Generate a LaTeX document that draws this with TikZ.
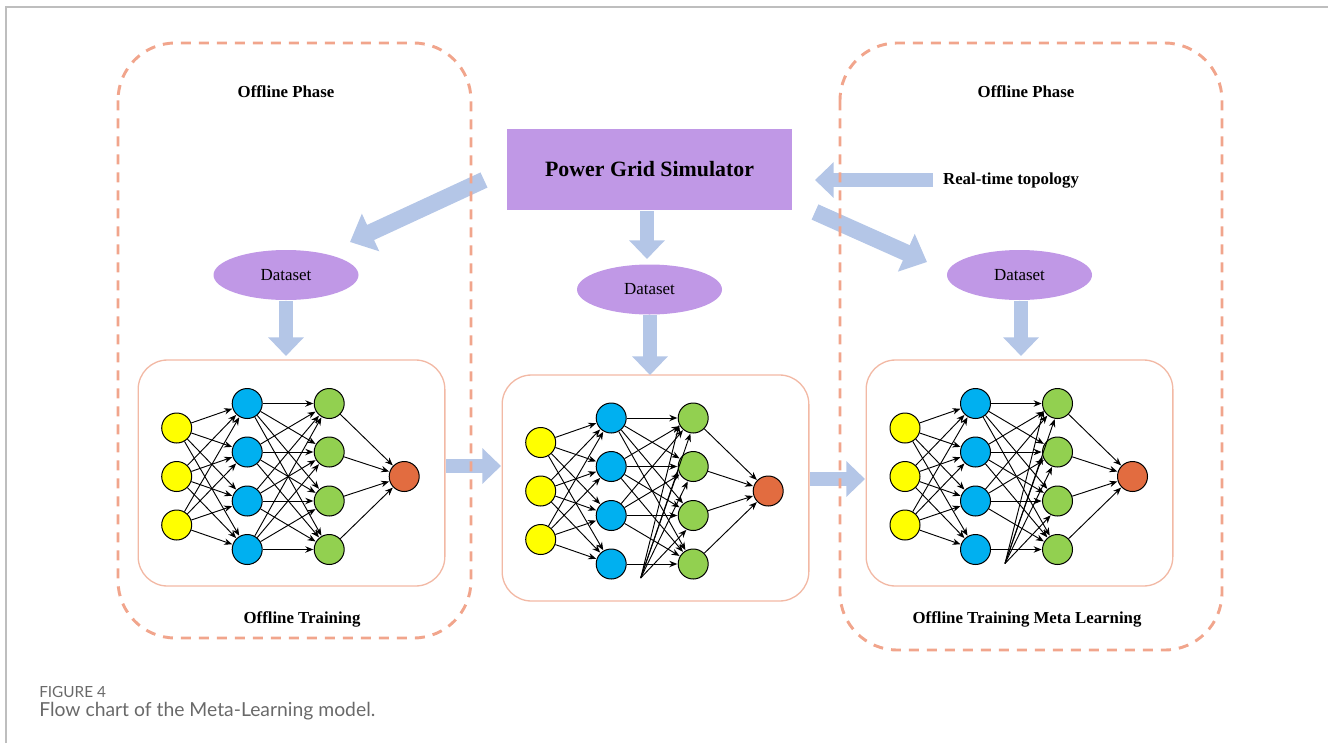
\documentclass[tikz,border=0pt]{standalone}
\usepackage{fontspec}
\setmainfont{Liberation Serif}
\newfontfamily\capfont{Lato}
\usetikzlibrary{arrows.meta,shapes.geometric,calc}
\definecolor{dashc}{RGB}{241,165,140}
\definecolor{nnc}{RGB}{242,185,165}
\definecolor{arrc}{RGB}{180,198,231}
\definecolor{simc}{RGB}{192,152,230}
\definecolor{yel}{RGB}{255,255,0}
\definecolor{blu}{RGB}{0,176,240}
\definecolor{grn}{RGB}{146,208,80}
\definecolor{redc}{RGB}{226,108,64}
\definecolor{framec}{RGB}{190,190,190}
\definecolor{capc}{RGB}{105,105,105}
\newcommand\drawnet[4]{%
  \begin{scope}[shift={(#2,#3)}]
    \foreach \i/\yy in {1/-48.5,2/0,3/48.5} \node[neuron,fill=yel] (#1y\i) at (0,\yy) {};
    \foreach \i/\yy in {1/-73,2/-24.5,3/24.5,4/73} {
      \node[neuron,fill=blu] (#1b\i) at (70.5,\yy) {};
      \node[neuron,fill=grn] (#1g\i) at (152.5,\yy) {};
    }
    \node[neuron,fill=redc] (#1r) at (227.5,0) {};
    \coordinate (#1p) at (100,87);
  \end{scope}
  \foreach \i in {1,2,3} \foreach \j in {1,...,4} \draw[edge] (#1y\i) -- (#1b\j);
  \foreach \i in {1,2,3} \foreach \j in {1,...,4} \draw[edge] (#1b\i) -- (#1g\j);
  \draw[edge] (#1b4) -- (#1g4);
  \ifnum#4=0
    \foreach \j in {1,2,3} \draw[edge] (#1b4) -- (#1g\j);
  \else
    \draw[edge] (#1p) -- (#1g1.-100);
    \draw[edge] (#1p) -- (#1g2.-110);
    \draw[edge] (#1p) -- (#1g3.-115);
    \draw[edge] (#1p) -- (#1g1.205);
    \draw[edge] (#1p) -- (#1g2.195);
  \fi
  \foreach \j in {1,...,4} \draw[edge] (#1g\j) -- (#1r);
}
\begin{document}
\begin{tikzpicture}[x=0.75pt,y=-0.75pt,
  phase/.style={draw=dashc,line width=2.2pt,dash pattern=on 7.5pt off 6pt,rounded corners=43pt},
  nnbox/.style={draw=nnc,line width=1pt,rounded corners=22pt,minimum width=230pt,minimum height=169.5pt,inner sep=0pt},
  barrow/.style={draw=arrc,line width=11pt,-{Triangle[length=14pt,width=26pt]}},
  barrowbig/.style={draw=arrc,line width=12.5pt,-{Triangle[length=17pt,width=30pt]}},
  neuron/.style={circle,draw=black,line width=0.75pt,minimum size=22.5pt,inner sep=0pt},
  edge/.style={-{Stealth[length=6pt,width=4.8pt]},line width=0.7pt,shorten >=0.3pt},
  dataset/.style={ellipse,fill=simc,minimum width=108.75pt,minimum height=37.5pt,inner sep=0pt,font=\fontsize{12.7pt}{14pt}\selectfont},
  title/.style={font=\bfseries\fontsize{12.6pt}{14pt}\selectfont},
]
\useasboundingbox (0,0) rectangle (1328,743);
% frame
\draw[framec,line width=1.1pt] (6,743) -- (6,7) -- (1328,7);
% simulator
\node[fill=simc,minimum width=213.75pt,minimum height=60.75pt,inner sep=0pt,font=\bfseries\fontsize{16.4pt}{18pt}\selectfont] (sim) at (649.5,169.5) {Power Grid Simulator};
\node[title] (rt) at (1011,181) {Real-time topology};
% datasets
\node[dataset] (ds1) at (286,275) {Dataset};
\node[dataset] (ds2) at (649.5,289.5) {Dataset};
\node[dataset] (ds3) at (1019.5,275) {Dataset};
% NN boxes
\node[nnbox] (nn1) at (291.5,473) {};
\node[nnbox] (nn2) at (655.5,488) {};
\node[nnbox] (nn3) at (1019.5,473) {};
% networks
\drawnet{A}{176.7}{476.5}{0}
\drawnet{B}{540.7}{491}{1}
\drawnet{C}{905}{476.5}{1}
% labels
\node[title] (ph1) at (286,92) {Offline Phase};
\node[title] (ph2) at (1026,92) {Offline Phase};
\node[title] (tr1) at (302,619) {Offline Training};
\node[title] (tr2) at (1027,619) {Offline Training Meta Learning};
% arrow coordinates
\coordinate (a1s) at (484,180); \coordinate (a1e) at (350,242);
\coordinate (a2s) at (647,211); \coordinate (a2e) at (647,259);
\coordinate (a3s) at (933,180); \coordinate (a3e) at (815,180);
\coordinate (a4s) at (815,212); \coordinate (a4e) at (927,262);
\coordinate (d1s) at (286,301); \coordinate (d1e) at (286,356);
\coordinate (d2s) at (650,315); \coordinate (d2e) at (650,375);
\coordinate (d3s) at (1021,301); \coordinate (d3e) at (1021,356);
\coordinate (h1s) at (446,466); \coordinate (h1e) at (501,466);
\coordinate (h2s) at (810,479); \coordinate (h2e) at (865,479);
\draw[barrowbig] (a1s) -- (a1e);
\draw[barrow] (a2s) -- (a2e);
\draw[barrow] (a3s) -- (a3e);
\draw[barrowbig] (a4s) -- (a4e);
\draw[barrow] (d1s) -- (d1e);
\draw[barrow] (d2s) -- (d2e);
\draw[barrow] (d3s) -- (d3e);
\draw[barrow] (h1s) -- (h1e);
\draw[barrow] (h2s) -- (h2e);
% dashed phase boxes
\draw[phase] (118,43) rectangle (471,638);
\draw[phase] (840,43) rectangle (1222,650);
% caption
\node[anchor=west,inner sep=0pt,text=capc,font=\capfont\fontsize{11.5pt}{13pt}\selectfont] (cap1) at (39,692) {FIGURE 4};
\node[anchor=west,inner sep=0pt,text=capc,font=\capfont\fontsize{14.5pt}{17pt}\selectfont] (cap2) at (39,711) {Flow chart of the Meta-Learning model.};
\end{tikzpicture}
\end{document}
